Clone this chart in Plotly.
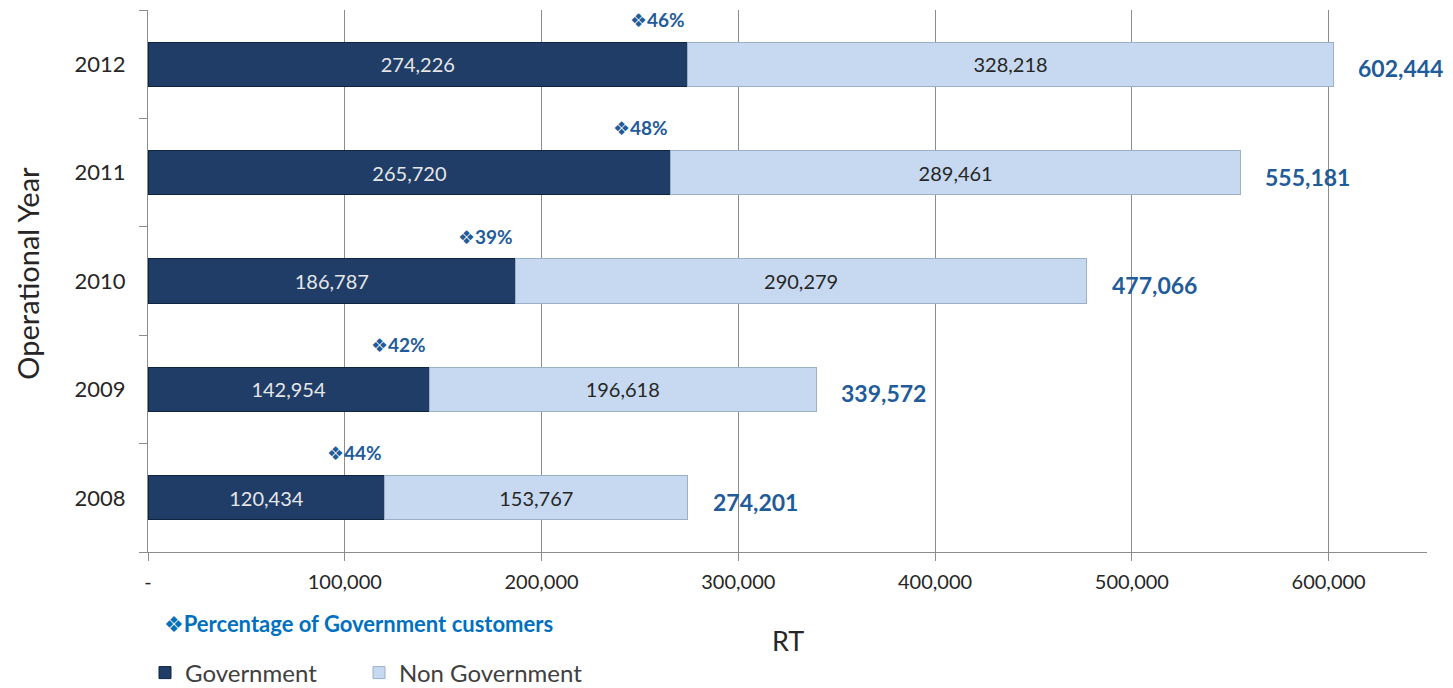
import plotly.graph_objects as go

years = ["2008", "2009", "2010", "2011", "2012"]
government = [120434, 142954, 186787, 265720, 274226]
non_government = [153767, 196618, 290279, 289461, 328218]
totals = [274201, 339572, 477066, 555181, 602444]
gov_pct = ["44%", "42%", "39%", "48%", "46%"]
x_tickvals = [0, 100000, 200000, 300000, 400000, 500000, 600000]
x_ticktext = ["-", "100,000", "200,000", "300,000", "400,000", "500,000", "600,000"]

pos = list(range(len(years)))  # category slots on the y axis

FONT = "Lato, 'Open Sans', sans-serif"
BLUE = "#1F5C99"
SYM = "<span style='font-family:DejaVu Sans'>\u2756</span>"
W, H = 1445, 680

fig = go.Figure()
fig.add_trace(go.Bar(
    y=pos, x=government, orientation="h", name="Government", legend="legend",
    marker=dict(color="#1F3D66", line=dict(color="#0F2440", width=1)),
    text=[f"{v:,}" for v in government], textposition="inside",
    insidetextanchor="middle", textfont=dict(color="#E6E6E6", size=20, family=FONT),
    constraintext="none",
))
fig.add_trace(go.Bar(
    y=pos, x=non_government, orientation="h", name="Non Government", legend="legend2",
    marker=dict(color="#C6D9F0", line=dict(color="#9AAFC8", width=1)),
    text=[f"{v:,}" for v in non_government], textposition="inside",
    insidetextanchor="middle", textfont=dict(color="#262626", size=20, family=FONT),
    constraintext="none",
))

for y, t in zip(pos, totals):
    fig.add_annotation(x=t, y=y, text=f"<b>{t:,}</b>", showarrow=False,
                       xanchor="left", xshift=23, yshift=-4,
                       font=dict(size=23, color=BLUE, family=FONT))
for y, g, p in zip(pos, government, gov_pct):
    fig.add_annotation(x=g, y=y, text=f"<b>{SYM}{p}</b>", showarrow=False,
                       xanchor="right", xshift=-1, yshift=45,
                       font=dict(size=19, color=BLUE, family=FONT))

fig.add_annotation(xref="paper", yref="paper", x=0.011, y=-0.131, xanchor="left",
                   yanchor="middle", text=f"<b>{SYM}Percentage of Government customers</b>",
                   showarrow=False, font=dict(size=22, color="#0070C0", family=FONT))
fig.add_annotation(xref="paper", yref="paper", x=0.5, y=-0.164, xanchor="center",
                   yanchor="middle", text="RT", showarrow=False,
                   font=dict(size=27, color="#262626", family=FONT))
fig.add_annotation(xref="paper", yref="paper", x=-0.094, y=0.515, xanchor="center",
                   yanchor="middle", text="Operational Year", textangle=-90, showarrow=False,
                   font=dict(size=29, color="#262626", family=FONT))

legend_common = dict(orientation="h", xref="container", yref="container",
                     y=1 - 665 / H, xanchor="left", yanchor="middle",
                     font=dict(size=24, color="#404040", family=FONT),
                     itemwidth=30, bgcolor="rgba(0,0,0,0)")

fig.update_layout(
    width=W, height=H,
    margin=dict(l=140, r=26, t=2, b=136),
    barmode="stack", bargap=0.594,
    plot_bgcolor="white", paper_bgcolor="white",
    font=dict(family=FONT, color="#262626"),
    showlegend=True,
    legend=dict(x=137 / W, **legend_common),
    legend2=dict(x=351 / W, **legend_common),
    xaxis=dict(range=[0, 650000], tickvals=x_tickvals, ticktext=x_ticktext,
               showgrid=True, gridcolor="#8C8C8C", gridwidth=1, automargin=False,
               showline=True, linecolor="#8C8C8C", ticks="outside", ticklen=8,
               tickcolor="#8C8C8C", zeroline=False, ticklabelstandoff=4,
               tickfont=dict(size=20, color="#262626", family=FONT)),
    yaxis=dict(range=[-0.5, len(years) - 0.5], tickvals=pos, ticktext=years,
               automargin=False, zeroline=False, ticklabelstandoff=17,
               showline=True, linecolor="#8C8C8C", ticks="", showgrid=False,
               minor=dict(tickvals=[p - 0.5 for p in pos] + [len(years) - 0.5],
                          ticks="outside", ticklen=8, tickcolor="#8C8C8C", showgrid=False),
               tickfont=dict(size=22, color="#262626", family=FONT)),
)

fig.write_html("out.html")
